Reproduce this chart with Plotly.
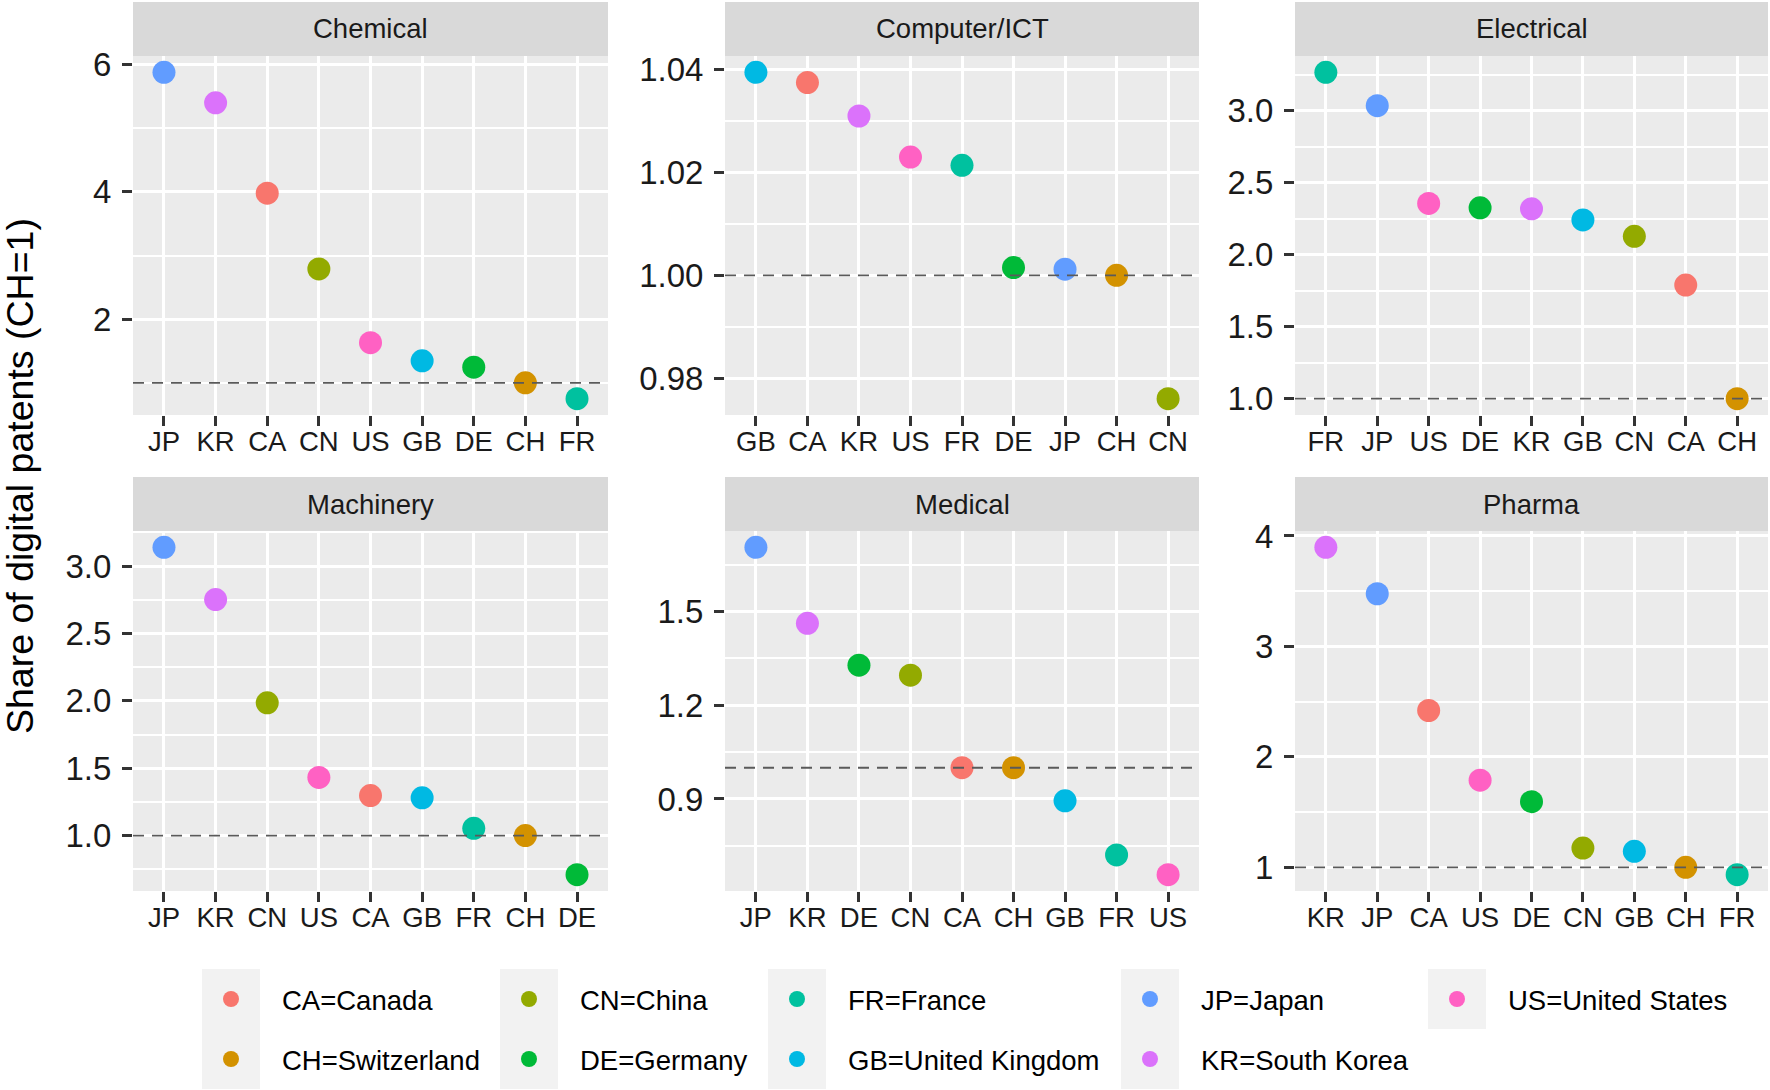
import plotly.graph_objects as go

# ---------------- data ----------------
codes = ["CA", "CH", "CN", "DE", "FR", "GB", "JP", "KR", "US"]
names = ["Canada", "Switzerland", "China", "Germany", "France",
         "United Kingdom", "Japan", "South Korea", "United States"]
colors = ["#F8766D", "#D39200", "#93AA00", "#00BA38", "#00C19F",
          "#00B9E3", "#619CFF", "#DB72FB", "#FF61C3"]

sectors = ["Chemical", "Computer/ICT", "Electrical", "Machinery", "Medical", "Pharma"]

# values listed in the order of `codes`
chemical   = [3.98, 1.00, 2.79, 1.245, 0.75, 1.345, 5.88, 5.40, 1.63]
computer   = [1.0375, 1.000, 0.976, 1.0015, 1.0214, 1.0395, 1.0012, 1.0310, 1.0230]
electrical = [1.789, 1.00, 2.128, 2.326, 3.267, 2.242, 3.035, 2.319, 2.356]
machinery  = [1.297, 1.00, 1.985, 0.710, 1.054, 1.280, 3.139, 2.752, 1.431]
medical    = [1.00, 1.00, 1.296, 1.328, 0.721, 0.894, 1.705, 1.462, 0.658]
pharma     = [2.42, 1.00, 1.175, 1.595, 0.934, 1.145, 3.477, 3.897, 1.789]

chem_ticks = [2, 4, 6]
comp_ticks = [0.98, 1.00, 1.02, 1.04]
elec_ticks = [1.0, 1.5, 2.0, 2.5, 3.0]
mach_ticks = [1.0, 1.5, 2.0, 2.5, 3.0]
med_ticks = [0.9, 1.2, 1.5]
pharma_ticks = [1, 2, 3, 4]
tick_formats = ["{:.0f}", "{:.2f}", "{:.1f}", "{:.1f}", "{:.1f}", "{:.0f}"]

reference_level = 1.0
y_title = "Share of digital patents (CH=1)"

# ---------------- layout constants ----------------
W, H = 1770, 1090
FONT = "Liberation Sans, Arial, sans-serif"
col_px = [(133, 608), (725, 1199), (1295, 1768)]
row_px = [(56, 415), (531, 891)]
STRIP_H = 54
legend_key_cx = [231, 529, 797, 1150, 1457]
legend_row1_cy = 999
legend_row_gap = 60
LEG_FONT = 27.5
leg_item_h = LEG_FONT * 1.3 + 3

series = [chemical, computer, electrical, machinery, medical, pharma]
ticks_all = [chem_ticks, comp_ticks, elec_ticks, mach_ticks, med_ticks, pharma_ticks]

fig = go.Figure()
shapes = []
annotations = []
layout_axes = {}

legend_names = ["legend", "legend2", "legend3", "legend4", "legend5"]

for i, (sector, vals, ticks) in enumerate(zip(sectors, series, ticks_all)):
    r, c = divmod(i, 3)
    suffix = "" if i == 0 else str(i + 1)
    order = sorted(range(len(codes)), key=lambda k: vals[k], reverse=True)
    cats = [codes[k] for k in order]

    for k in range(len(codes)):
        fig.add_trace(go.Scatter(
            x=[codes[k]], y=[vals[k]], mode="markers",
            marker=dict(color=colors[k], size=23, line=dict(width=0)),
            name=f"{codes[k]}={names[k]}", legendgroup=codes[k],
            showlegend=(i == 0), legend=legend_names[k // 2],
            xaxis="x" + suffix, yaxis="y" + suffix,
            hovertemplate=f"{sector}<br>{codes[k]}: %{{y:.3f}}<extra></extra>",
        ))

    lo_v, hi_v = min(vals + [reference_level]), max(vals + [reference_level])
    span = hi_v - lo_v
    rng = [lo_v - 0.05 * span, hi_v + 0.05 * span]
    step = ticks[1] - ticks[0]
    minor = [ticks[0] - step / 2] + [(a + b) / 2 for a, b in zip(ticks[:-1], ticks[1:])] + [ticks[-1] + step / 2]

    x0, x1 = col_px[c]
    y0, y1 = row_px[r]
    layout_axes["xaxis" + suffix] = dict(
        domain=[x0 / W, x1 / W], anchor="y" + suffix, type="category",
        categoryorder="array", categoryarray=cats, range=[-0.6, len(codes) - 0.4],
        showgrid=True, gridcolor="white", gridwidth=3,
        ticks="outside", ticklen=10, tickwidth=3, tickcolor="#333333",
        ticklabelstandoff=-8,
        tickfont=dict(size=27.5, color="#1a1a1a", family=FONT),
        showline=False, zeroline=False, fixedrange=True, automargin=False,
    )
    layout_axes["yaxis" + suffix] = dict(
        domain=[1 - y1 / H, 1 - y0 / H], anchor="x" + suffix, range=rng,
        tickmode="array", tickvals=ticks, ticktext=[tick_formats[i].format(t) for t in ticks],
        showgrid=True, gridcolor="white", gridwidth=3,
        minor=dict(tickmode="array", tickvals=minor, showgrid=True,
                   gridcolor="white", gridwidth=1.5, ticks=""),
        ticks="outside", ticklen=10, tickwidth=3, tickcolor="#333333",
        ticklabelstandoff=4,
        tickfont=dict(size=33, color="#1a1a1a", family=FONT),
        showline=False, zeroline=False, fixedrange=True, automargin=False,
    )

    # dashed reference line at CH = 1
    shapes.append(dict(type="line", xref=f"x{suffix} domain", yref="y" + suffix,
                       x0=0, x1=1, y0=reference_level, y1=reference_level,
                       line=dict(color="#5a5a5a", width=1.8, dash="11px,8px"), layer="above"))
    # facet strip
    shapes.append(dict(type="rect", xref="paper", yref="paper",
                       x0=x0 / W, x1=x1 / W, y0=1 - y0 / H, y1=1 - (y0 - STRIP_H) / H,
                       fillcolor="#D9D9D9", line=dict(width=0), layer="below"))
    annotations.append(dict(text=sector, xref="paper", yref="paper",
                            x=(x0 + x1) / 2 / W, y=1 - (y0 - STRIP_H / 2) / H,
                            xanchor="center", yanchor="middle", showarrow=False,
                            font=dict(size=27.5, color="#1a1a1a", family=FONT)))

# y-axis title
annotations.append(dict(text=y_title, xref="paper", yref="paper", x=20 / W, y=1 - 476 / H,
                        textangle=-90, xanchor="center", yanchor="middle", showarrow=False,
                        font=dict(size=37.5, color="#000000", family=FONT)))

# legend key backgrounds + legends (one per legend column)
legends = {}
for j, cx in enumerate(legend_key_cx):
    n_items = len([k for k in range(len(codes)) if k // 2 == j])
    shapes.append(dict(type="rect", xref="paper", yref="paper",
                       x0=(cx - 29) / W, x1=(cx + 29) / W,
                       y0=1 - (legend_row1_cy - 30 + legend_row_gap * n_items) / H,
                       y1=1 - (legend_row1_cy - 30) / H,
                       fillcolor="#F2F2F2", line=dict(width=0), layer="below"))
    legends[legend_names[j]] = dict(
        x=(cx - 51) / W, xanchor="left",
        y=1 - (legend_row1_cy - 5 - leg_item_h / 2) / H, yanchor="top",
        orientation="v", itemwidth=92, traceorder="grouped",
        tracegroupgap=legend_row_gap - leg_item_h,
        bgcolor="rgba(0,0,0,0)", borderwidth=0, itemclick=False, itemdoubleclick=False,
        font=dict(size=LEG_FONT, color="#000000", family=FONT),
    )

fig.update_layout(
    width=W, height=H, margin=dict(l=0, r=0, t=0, b=0, pad=0, autoexpand=False),
    paper_bgcolor="white", plot_bgcolor="#EBEBEB",
    font=dict(family=FONT),
    shapes=shapes, annotations=annotations,
    **layout_axes, **legends,
)

fig.write_html("out.html", config={"displayModeBar": False},
               post_script="document.body.style.margin='0px';")
